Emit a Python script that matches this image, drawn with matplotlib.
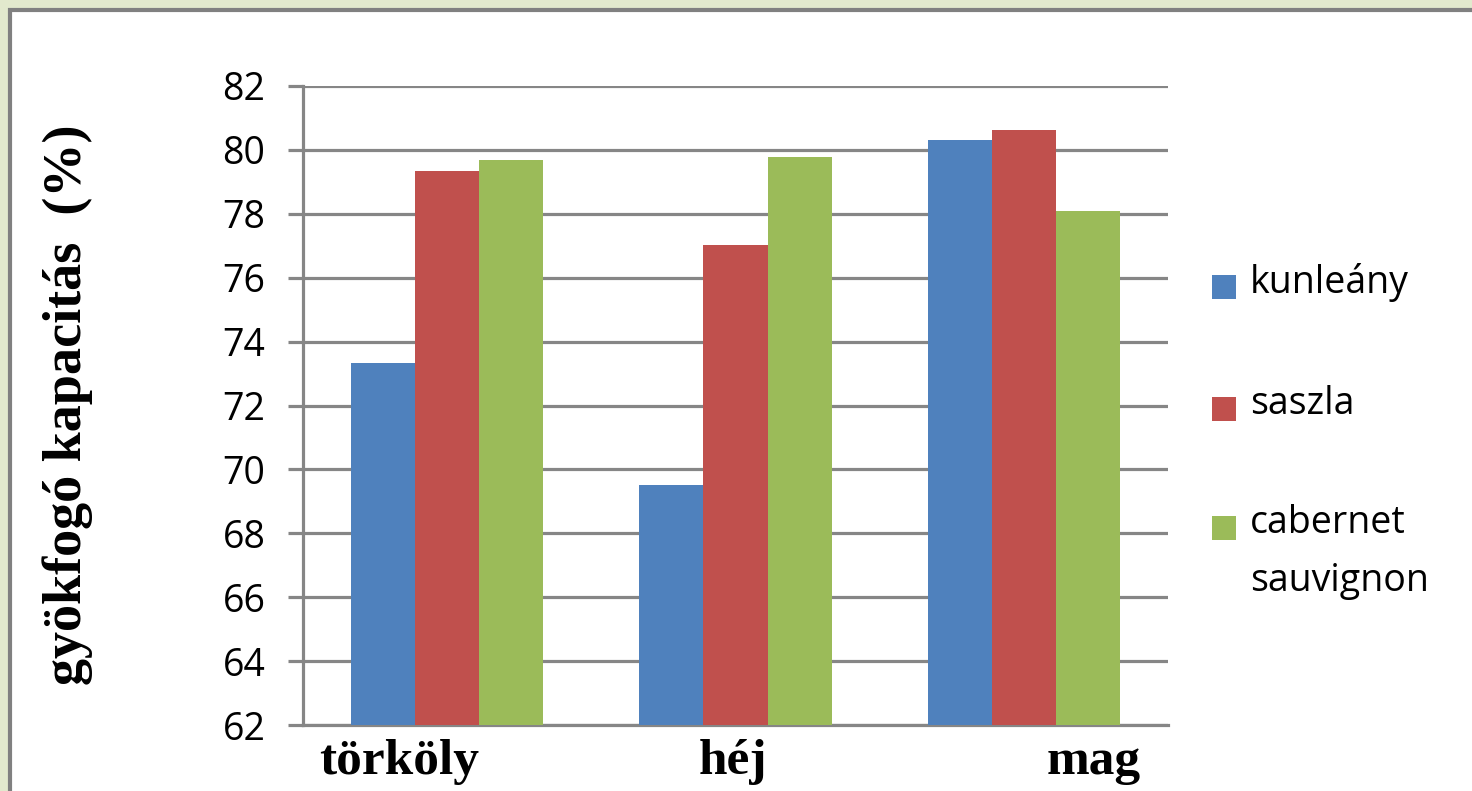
import matplotlib.pyplot as plt
from matplotlib.patches import Rectangle
from matplotlib.transforms import ScaledTranslation

# Gyökfogó kapacitás by grape part and variety
categories = ["törköly", "héj", "mag"]
varieties = ["kunleány", "saszla", "cabernet\nsauvignon"]
kunleany = [73.33, 69.51, 80.31]
saszla = [79.34, 77.02, 80.62]
cabernet = [79.68, 79.78, 78.09]
series = [kunleany, saszla, cabernet]
colors = ["#4F81BD", "#C0504D", "#9BBB59"]
yticks = list(range(62, 83, 2))

grid_gray = "#868686"

fig = plt.figure(figsize=(14.72, 7.91), dpi=100, facecolor="#E2E9CD")

# white panel with grey frame (top and left edges visible)
panel = Rectangle((10 / 1472, -0.05), 1.1, 1 - 10 / 791 + 0.05,
                  transform=fig.transFigure, facecolor="white",
                  edgecolor="#808080", linewidth=3, zorder=0)
fig.add_artist(panel)

ax = fig.add_axes([303 / 1472, 1 - 725 / 791, 865 / 1472, 639 / 791])
ax.set_facecolor("none")

width = 0.222
for i, (vals, color) in enumerate(zip(series, colors)):
    xs = [c + (i - 1) * width for c in range(len(categories))]
    ax.bar(xs, vals, width=width, color=color, zorder=3)

ax.set_xlim(-0.5, 2.5)
ax.set_ylim(62, 82)
ax.set_yticks(yticks)
ax.yaxis.grid(True, color=grid_gray, linewidth=2.3, zorder=1)
ax.set_axisbelow(True)

for side in ["top", "right"]:
    ax.spines[side].set_visible(False)
ax.spines["left"].set_color(grid_gray)
ax.spines["left"].set_linewidth(2.3)
ax.spines["bottom"].set_color(grid_gray)
ax.spines["bottom"].set_linewidth(2.3)

ax.tick_params(axis="y", length=11, width=2.3, color=grid_gray, pad=16,
               labelsize=27, labelfontfamily="Open Sans")
ax.tick_params(axis="x", length=0, pad=10)

ax.set_xticks(range(len(categories)))
ax.set_xticklabels(categories, fontsize=37, fontweight="bold",
                   family="Liberation Serif")
# category labels sit off-centre from their bar groups
shifts = [-48, -2, 70]
for lbl, dx in zip(ax.get_xticklabels(), shifts):
    lbl.set_transform(lbl.get_transform() +
                      ScaledTranslation(dx / 100, 0, fig.dpi_scale_trans))

fig.text(68 / 1472, 1 - 405 / 791, "gyökfogó kapacitás  (%)", rotation=90,
         ha="center", va="center", fontsize=39, fontweight="bold",
         family="Liberation Serif")

# legend
legend_rows = [287, 409, 528]
for label, color, yc in zip(varieties, colors, legend_rows):
    fig.add_artist(Rectangle((1212 / 1472, 1 - (yc + 12) / 791), 24 / 1472, 24 / 791,
                             transform=fig.transFigure, facecolor=color,
                             edgecolor="none"))
    fig.text(1250 / 1472, 1 - (yc - 24) / 791, label, ha="left", va="top",
             fontsize=27, family="Open Sans", linespacing=1.7)

fig.savefig("out.png", dpi=100, facecolor=fig.get_facecolor())
